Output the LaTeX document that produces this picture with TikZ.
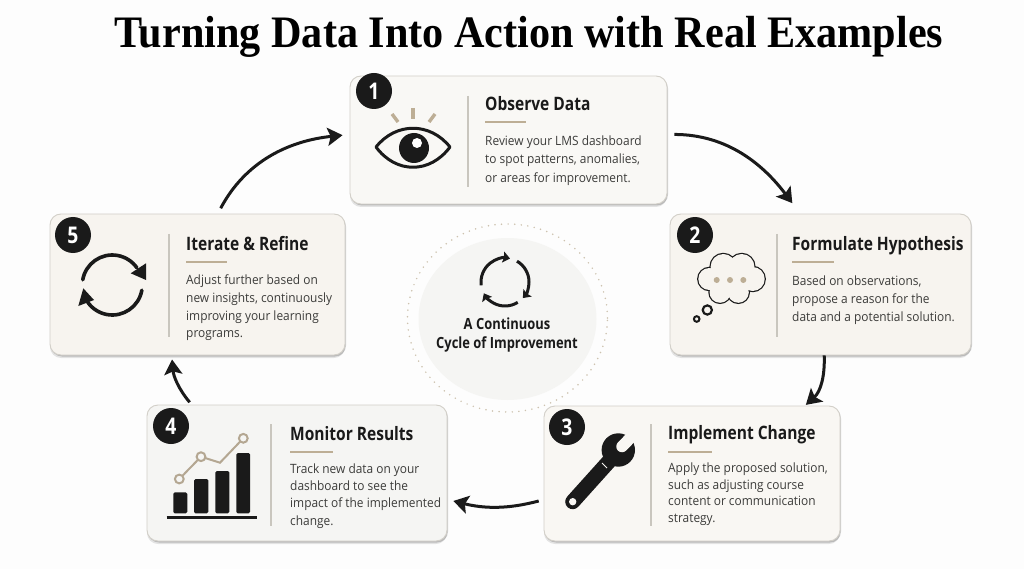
\documentclass[tikz,border=0pt]{standalone}
\usepackage{fontspec}
\setmainfont[FakeStretch=.93]{Open Sans}
\newfontfamily\headfont[FakeStretch=.84]{Open Sans}
\newfontfamily\bigfont[FakeStretch=.938]{Liberation Serif}
\usetikzlibrary{shapes.geometric, arrows.meta, shadows}

\definecolor{paper}{HTML}{FDFDFD}
\definecolor{ink}{HTML}{1A1A1A}
\definecolor{bodyink}{HTML}{3C3C3A}
\definecolor{tan}{HTML}{BDAE95}
\definecolor{rule}{HTML}{C9C6BE}
\definecolor{edge}{HTML}{D2CFC8}
\definecolor{creamA}{HTML}{F9F8F5}
\definecolor{creamB}{HTML}{F7F4EF}
\definecolor{creamC}{HTML}{F9F7F3}
\definecolor{creamD}{HTML}{F5F5F3}
\definecolor{hub}{HTML}{F5F5F3}

\begin{document}
\begin{tikzpicture}[
        x=1pt, y=1pt,
        card/.style={
          rectangle,
          draw=edge,
          line width=.9pt,
          fill=#1,
          rounded corners=11pt,
          drop shadow={shadow xshift=0pt, shadow yshift=-3pt, opacity=.10, fill=black},
          drop shadow={shadow xshift=1pt, shadow yshift=-1.5pt, opacity=.18, fill=black}
        },
        badge/.style={
          circle,
          fill=ink,
          text=white,
          minimum size=36pt,
          inner sep=0pt,
          font=\headfont\bfseries\fontsize{23}{23}\selectfont
        },
        cardHead/.style={
          anchor=base west,
          inner sep=0pt,
          text=ink,
          font=\headfont\bfseries\fontsize{18.5}{20}\selectfont
        },
        cardBody/.style={
          anchor=north west,
          inner sep=0pt,
          align=left,
          text=bodyink,
          font=\fontsize{12.8}{#1}\selectfont
        },
        line/.style={
          -{Stealth[length=15pt, width=18pt, inset=3pt]},
          line width=3pt,
          draw=ink
        },
        iconLine/.style={draw=ink, line width=3pt},
        cycleArc/.style={
          -{Stealth[length=7pt, width=11pt, inset=1pt]},
          draw=ink,
          line width=3pt
        }
    ]
    \useasboundingbox (0,0) rectangle (1024,-569);
    \fill[paper] (0,0) rectangle (1024,-569);

    % Heading
    \node[anchor=base, inner sep=0pt, text=black,
      font=\bigfont\bfseries\fontsize{45}{45}\selectfont] (heading) at (529,-48)
      {Turning Data Into Action with Real Examples};

    % Centre circle
    \node[draw=none, fill=hub, ellipse, minimum width=178pt, minimum height=162pt, inner sep=0pt] (hubDisc) at (507.5,-319) {};
    \draw[draw=tan!75, line width=1.7pt, line cap=round, dash pattern=on 0pt off 6.6pt] (507.5,-318) ellipse (100 and 94);
    \draw[cycleArc] (505,-282) ++(188:24) arc (188:78:24);
    \draw[cycleArc] (505,-282) ++(60:24) arc (60:-42:24);
    \draw[cycleArc] (505,-282) ++(-58:24) arc (-58:-152:24);
    \node[align=center, inner sep=0pt, text=ink, anchor=north,
      font=\headfont\bfseries\fontsize{15.4}{19}\selectfont] (hubText) at (507,-318)
      {A Continuous\\Cycle of Improvement};

    % Define the cards
    \node[card=creamA, minimum width=317pt, minimum height=128pt] (observe) at (508.5,-140) {};
    \node[card=creamB, minimum width=301pt, minimum height=141pt] (hypothesis) at (820.5,-284.5) {};
    \node[card=creamC, minimum width=296pt, minimum height=135pt] (implement) at (692,-473.5) {};
    \node[card=creamD, minimum width=300pt, minimum height=136pt] (monitor) at (297,-473) {};
    \node[card=creamB, minimum width=295pt, minimum height=141pt] (iterate) at (197.5,-284.5) {};

    % Connect the cards
    \draw[line, shorten <=7pt, shorten >=13pt] (observe.2.5) to[out=0, in=127] (hypothesis.106);
    \draw[line, shorten >=1pt] (hypothesis.273) to[out=-88, in=42] (implement.31.8);
    \draw[line, shorten <=5pt, shorten >=6pt] (implement.190.5) to[out=195, in=-14] (monitor.-10.6);
    \draw[line, shorten <=3pt, shorten >=4pt] (monitor.147.2) to[out=130, in=-85] (iterate.250);
    \draw[line, shorten <=6pt, shorten >=7pt] (iterate.74) to[out=62, in=186] (observe.178.5);

    % Number badges
    \node[badge] (badgeOne) at (374,-91) {1};
    \node[badge] (badgeTwo) at (695,-235) {2};
    \node[badge] (badgeThree) at (567,-427) {3};
    \node[badge] (badgeFour) at (171,-426) {4};
    \node[badge] (badgeFive) at (73,-235) {5};

    % Dividers and short accents
    \foreach \x/\ya/\yb in {468/-96/-187, 777/-234/-337, 651/-424/-526, 271/-424/-526, 169/-234/-337}
      \draw[rule, line width=1.2pt] (\x,\ya) -- (\x,\yb);
    \foreach \xa/\xb/\y in {485/526/-122, 792/834/-262, 668/712/-452, 290/333/-452, 186/227/-262}
      \draw[tan, line width=1.5pt] (\xa,\y) -- (\xb,\y);

    % Card texts
    \node[cardHead] (observeHead) at (485,-111) {Observe Data};
    \node[cardBody=18.3pt] (observeBody) at (485,-135.5) {Review your LMS dashboard\\to spot patterns, anomalies,\\or areas for improvement.};
    \node[cardHead] (hypothesisHead) at (792,-251) {Formulate Hypothesis};
    \node[cardBody=18pt] (hypothesisBody) at (792,-275.5) {Based on observations,\\propose a reason for the\\data and a potential solution.};
    \node[cardHead] (implementHead) at (668,-439) {Implement Change};
    \node[cardBody=16.7pt] (implementBody) at (668,-462.5) {Apply the proposed solution,\\such as adjusting course\\content or communication\\strategy.};
    \node[cardHead] (monitorHead) at (290,-440) {Monitor Results};
    \node[cardBody=17.2pt] (monitorBody) at (290,-463.5) {Track new data on your\\dashboard to see the\\impact of the implemented\\change.};
    \node[cardHead] (iterateHead) at (186,-251) {Iterate \& Refine};
    \node[cardBody=17.8pt] (iterateBody) at (186,-274.5) {Adjust further based on\\new insights, continuously\\improving your learning\\programs.};

    % Eye
    \draw[iconLine, line join=round] (376,-147) .. controls (396,-122) and (430,-122) .. (450,-147)
      .. controls (430,-174) and (396,-174) .. cycle;
    \fill[ink] (414,-148) circle (15);
    \fill[white] (417,-143) circle (5);
    \draw[tan, line width=3.4pt] (392,-114) -- (398,-122);
    \draw[tan, line width=3.4pt] (413,-108) -- (413,-119);
    \draw[tan, line width=3.4pt] (435,-114) -- (429,-122);

    % Thought cloud
    \foreach \cx/\cy/\r in {709.3/-279/11, 723.3/-266.7/12.7, 741.7/-266.7/12.7, 752.7/-279/12, 738.3/-292.3/10.5, 720/-292.3/10.5}
      \draw[ink, line width=2.4pt] (\cx,\cy) circle (\r);
    \foreach \cx/\cy/\r in {709.3/-279/11, 723.3/-266.7/12.7, 741.7/-266.7/12.7, 752.7/-279/12, 738.3/-292.3/10.5, 720/-292.3/10.5, 731/-280/16}
      \fill[creamB] (\cx,\cy) circle (\r);
    \foreach \cx in {716.7, 730, 743.3}
      \fill[tan] (\cx,-280) circle (3);
    \draw[ink, line width=2.2pt] (707.3,-310) circle (4.6);
    \draw[ink, line width=2pt] (696.7,-319) circle (2.8);

    % Wrench
    \draw[ink, line width=15pt, line cap=round] (572.7,-501.7) -- (612,-458);
    \fill[ink] (618.3,-450) circle (16.7);
    \draw[creamC, line width=11.5pt, line cap=round] (622,-446.5) -- (642,-426);
    \fill[creamC] (572.7,-501.7) circle (3.7);
    \draw[creamC, line width=1pt] (602,-463) -- (607,-468);

    % Bar chart
    \foreach \xa/\xb/\ytop in {173.3/187.3/-492.3, 194/208.3/-479, 215.3/229.3/-471, 236.3/250/-453}
      \fill[ink, rounded corners=1.5pt] (\xa,\ytop) rectangle (\xb,-513.3);
    \draw[ink, line width=2.5pt] (166.7,-517.7) -- (257.3,-517.7);
    \draw[tan!85!gray, line width=2pt] (179.3,-479) -- (201,-456.7) -- (220,-462.7) -- (243.3,-438.3);
    \foreach \cx/\cy in {179.3/-479, 201/-456.7, 243.3/-438.3}
      \draw[tan!85!gray, fill=creamD, line width=2pt] (\cx,\cy) circle (4.4);

    % Refresh arrows
    \draw[iconLine, line width=3.6pt, line cap=round] (112.3,-285) ++(170:30) arc (170:35:30);
    \fill[ink] (146,-263.3) -- (146,-280) -- (130.7,-273.3) -- cycle;
    \draw[iconLine, line width=3.6pt, line cap=round] (112.3,-285) ++(-10:30) arc (-10:-145:30);
    \fill[ink] (78.3,-306) -- (83.3,-288.3) -- (94,-300) -- cycle;

\end{tikzpicture}
\end{document}
